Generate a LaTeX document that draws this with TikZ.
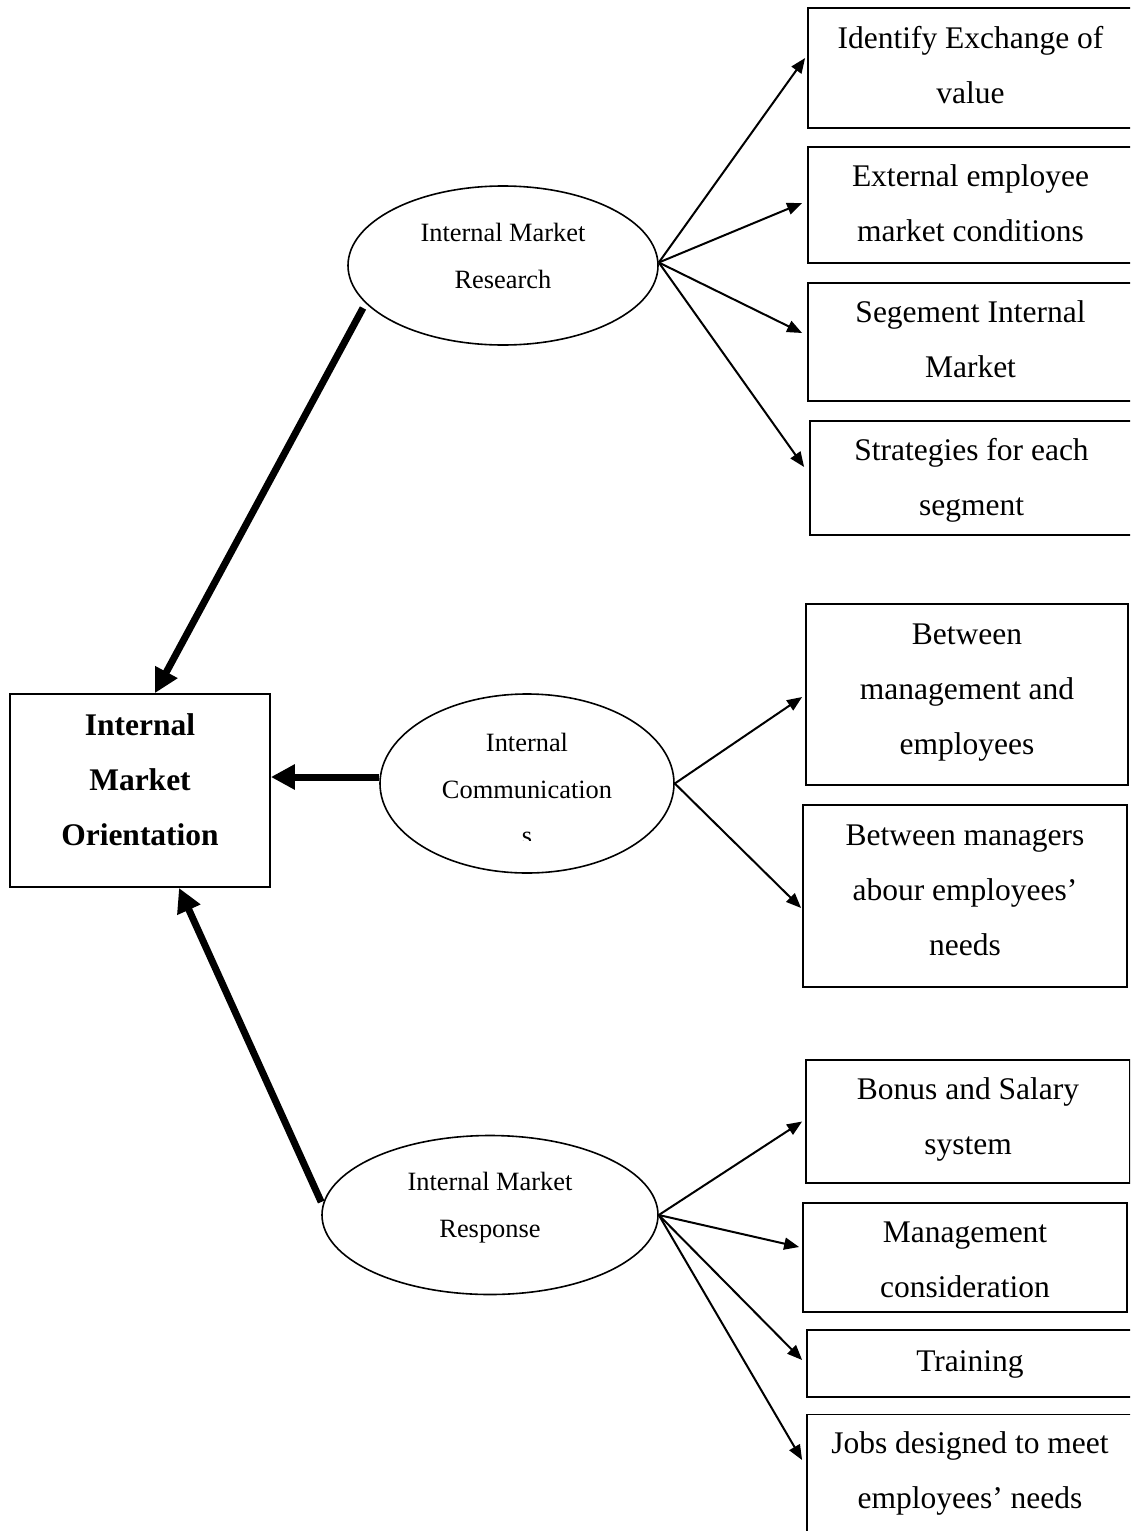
\documentclass[tikz,border=0pt]{standalone}
\usepackage{fontspec}
\setmainfont{Liberation Serif}
\usetikzlibrary{arrows.meta,shapes.geometric}

\begin{document}
\begin{tikzpicture}[x=1pt,y=-1pt,
  % each text starts with \strut; #1 is the depth added below the last line
  boxfont/.style={font=\fontsize{31.5pt}{55pt}\selectfont},
  ovalfont/.style={font=\fontsize{26.4pt}{47pt}\selectfont},
  card/.style={draw, line width=1.8pt, rectangle, inner sep=0pt, align=center, boxfont,
    execute at end node={\rule[-#1]{0pt}{0pt}}},
  card/.default=23.5pt,
  oval/.style={draw, line width=1.6pt, ellipse, inner sep=0pt},
  ovaltext/.style={inner sep=0pt, align=center, ovalfont,
    execute at end node={\rule[-#1]{0pt}{0pt}}},
  thinarrow/.style={line width=2pt, -{Triangle[length=15pt,width=12pt]}},
  thickarrow/.style={line width=7pt, -{Triangle[length=24pt,width=24pt]}},
]
\useasboundingbox (0,0) rectangle (1130,1531);
\clip (0,0) rectangle (1130,1531);

% central box
\node[card=39.5pt, font=\fontsize{31.5pt}{55pt}\selectfont\bfseries,
      minimum width=260pt, minimum height=193pt] (imo) at (140,790.5)
  {\strut Internal\\Market\\Orientation};

% the three ovals
\node[oval, minimum width=310pt, minimum height=159pt] (e1) at (503,265.5) {};
\node[oval, minimum width=294pt, minimum height=179pt] (e2) at (527,783.5) {};
\node[oval, minimum width=336pt, minimum height=159pt] (e3) at (490,1215) {};

\node[ovaltext=34.9pt] (t1) at (e1.center) {\strut Internal Market\\Research};
\node[ovaltext=49.9pt] (t2) at (e2.center) {\strut Internal\\Communication};
\begin{scope}
  \clip (480,800) rectangle (580,840);
  \node[inner sep=0pt, ovalfont, anchor=base] (t2s) at ([yshift=-60.5pt]e2.center) {s};
\end{scope}
\node[ovaltext=34.9pt] (t3) at (e3.center) {\strut Internal Market\\Response};

% research items
\node[card=23.5pt, minimum width=325pt, minimum height=120pt] (b1) at (970.5,68)
  {\strut Identify Exchange of\\value};
\node[card=20.5pt, minimum width=325pt, minimum height=116pt] (b2) at (970.5,205)
  {\strut External employee\\market conditions};
\node[card=23.5pt, minimum width=325pt, minimum height=118pt] (b3) at (970.5,342)
  {\strut Segement Internal\\Market};
\node[card=18.5pt, minimum width=323pt, minimum height=114pt] (b4) at (971.5,478)
  {\strut Strategies for each\\segment};

% communication items
\node[card=29.5pt, minimum width=322pt, minimum height=181pt] (b5) at (967,694.5)
  {\strut Between\\management and\\employees};
\node[card=30.5pt, minimum width=324pt, minimum height=182pt] (b6) at (965,896)
  {\strut Between managers\\abour employees’\\needs};

% response items
\node[card=28.5pt, minimum width=324pt, minimum height=123pt] (b7) at (968,1121.5)
  {\strut Bonus and Salary\\system};
\node[card=13.5pt, minimum width=324pt, minimum height=109pt] (b8) at (965,1257.5)
  {\strut Management\\consideration};
\node[card=23.5pt, minimum width=326pt, minimum height=67pt] (b9) at (970,1363.5)
  {\strut Training};
\node[card=37.5pt, minimum width=326pt, minimum height=130pt] (b10) at (970,1480)
  {\strut Jobs designed to meet\\employees’ needs};

% ovals feeding the central box
\draw[thickarrow] ([shift={(-140,42.5)}]e1.center) -- ([xshift=15pt]imo.north);
\draw[thickarrow] ([yshift=6.5pt]e2.west) -- ([yshift=13.5pt]imo.east);
\draw[thickarrow] ([yshift=13pt]e3.west) -- ([xshift=39pt]imo.south);

% fan-out from each oval
\draw[thinarrow] ([yshift=3pt]e1.east) -- ([xshift=-2pt,yshift=10pt]b1.west);
\draw[thinarrow] ([yshift=3pt]e1.east) -- ([xshift=-5pt,yshift=2pt]b2.west);
\draw[thinarrow] ([yshift=3pt]e1.east) -- ([xshift=-5pt,yshift=9pt]b3.west);
\draw[thinarrow] ([yshift=3pt]e1.east) -- ([xshift=-5pt,yshift=11pt]b4.west);

\draw[thinarrow] (e2.east) -- ([xshift=-3pt,yshift=-2.5pt]b5.west);
\draw[thinarrow] (e2.east) -- ([xshift=-1pt,yshift=-12pt]b6.west);

\draw[thinarrow] (e3.east) -- ([xshift=-3pt]b7.west);
\draw[thinarrow] (e3.east) -- ([xshift=-3pt,yshift=10.5pt]b8.west);
\draw[thinarrow] (e3.east) -- ([xshift=-4pt,yshift=3.5pt]b9.west);
\draw[thinarrow] (e3.east) -- ([xshift=-4pt,yshift=20pt]b10.west);
\end{tikzpicture}
\end{document}
